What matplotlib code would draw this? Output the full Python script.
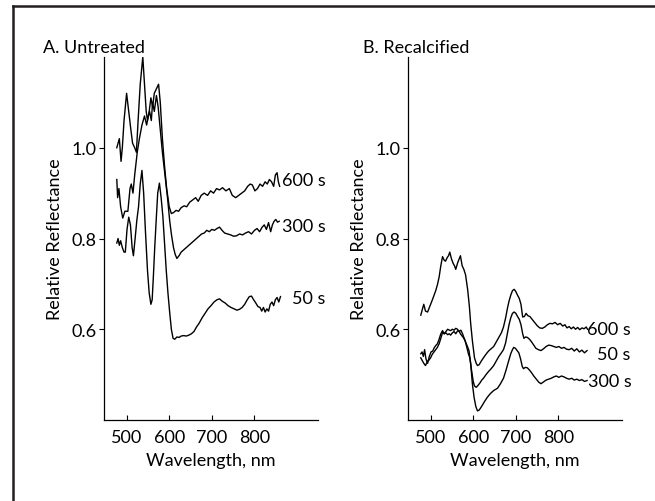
import matplotlib
matplotlib.use("Agg")
import matplotlib.pyplot as plt
from matplotlib.lines import Line2D

plt.rcParams['font.family'] = ['Lato', 'DejaVu Sans']

# ---------------- Data ----------------
# Panel A: Untreated
a600_wl = [477, 480, 483, 487, 490, 494, 500, 505, 510, 514, 519, 523, 527, 532, 538, 542, 546, 549, 553, 557,
           561, 565, 570, 575, 579, 584, 589, 594, 600, 605, 610, 616, 622, 628, 635, 641, 648, 655, 662, 668,
           675, 682, 690, 697, 704, 711, 718, 725, 733, 741, 748, 756, 763, 770, 777, 784, 790, 795, 801, 807,
           813, 819, 825, 830, 835, 840, 845, 849, 853, 856, 859]
a600_r = [1.00, 1.01, 1.02, 0.97, 1.00, 1.06, 1.12, 1.08, 1.04, 1.01, 1.00, 0.99, 1.06, 1.14, 1.20, 1.14, 1.08, 1.06, 1.08, 1.11,
          1.09, 1.12, 1.13, 1.14, 1.10, 1.02, 0.96, 0.91, 0.87, 0.855, 0.857, 0.862, 0.86, 0.868, 0.872, 0.87, 0.88, 0.885, 0.89, 0.882,
          0.895, 0.90, 0.895, 0.905, 0.90, 0.91, 0.907, 0.912, 0.905, 0.91, 0.895, 0.89, 0.895, 0.90, 0.905, 0.915, 0.92, 0.918, 0.905, 0.91,
          0.92, 0.915, 0.925, 0.92, 0.93, 0.925, 0.915, 0.94, 0.945, 0.925, 0.915]

a300_wl = [477, 479, 482, 486, 491, 496, 503, 508, 511, 515, 519, 525, 530, 536, 542, 547, 551, 554, 558, 561,
           565, 570, 574, 578, 584, 590, 596, 601, 605, 610, 614, 618, 623, 628, 634, 640, 646, 652, 658, 664,
           670, 676, 682, 688, 694, 700, 706, 712, 718, 724, 730, 737, 744, 751, 758, 765, 772, 779, 786, 793,
           800, 806, 812, 818, 823, 828, 833, 838, 842, 846, 850, 854, 858]
a300_r = [0.93, 0.89, 0.91, 0.87, 0.845, 0.86, 0.86, 0.91, 0.92, 0.90, 0.94, 0.99, 1.02, 1.05, 1.07, 1.05, 1.07, 1.08, 1.06, 1.10,
          1.08, 1.115, 1.09, 1.05, 0.99, 0.94, 0.89, 0.84, 0.81, 0.78, 0.765, 0.756, 0.762, 0.77, 0.775, 0.78, 0.785, 0.79, 0.795, 0.80,
          0.805, 0.81, 0.812, 0.818, 0.815, 0.82, 0.818, 0.822, 0.825, 0.818, 0.812, 0.81, 0.808, 0.805, 0.806, 0.81, 0.808, 0.812, 0.815, 0.81,
          0.818, 0.822, 0.815, 0.825, 0.83, 0.82, 0.835, 0.815, 0.83, 0.838, 0.842, 0.836, 0.838]

a50_wl = [477, 480, 483, 486, 490, 494, 497, 501, 505, 509, 513, 516, 520, 524, 528, 532, 536, 540, 544, 549,
          553, 557, 560, 563, 566, 570, 573, 577, 581, 585, 589, 593, 597, 601, 605, 609, 613, 618, 623, 628,
          634, 640, 646, 652, 658, 664, 670, 677, 684, 691, 698, 705, 712, 718, 724, 731, 738, 745, 752, 759,
          765, 771, 777, 783, 788, 793, 798, 803, 808, 813, 817, 821, 825, 829, 833, 837, 841, 845, 849, 853,
          857, 861]
a50_r = [0.79, 0.80, 0.785, 0.795, 0.78, 0.77, 0.77, 0.82, 0.847, 0.83, 0.78, 0.762, 0.80, 0.84, 0.87, 0.92, 0.95, 0.90, 0.82, 0.73,
         0.68, 0.655, 0.665, 0.72, 0.78, 0.85, 0.90, 0.922, 0.89, 0.85, 0.79, 0.73, 0.68, 0.638, 0.60, 0.58, 0.578, 0.583, 0.582, 0.585,
         0.586, 0.585, 0.587, 0.59, 0.595, 0.605, 0.613, 0.625, 0.635, 0.645, 0.652, 0.66, 0.665, 0.667, 0.662, 0.658, 0.652, 0.648, 0.645, 0.642,
         0.644, 0.648, 0.655, 0.665, 0.672, 0.673, 0.665, 0.658, 0.65, 0.648, 0.64, 0.648, 0.638, 0.645, 0.64, 0.655, 0.66, 0.652, 0.665, 0.67,
         0.66, 0.672]

# Panel B: Recalcified
b600_wl = [477, 481, 484, 488, 493, 498, 503, 507, 512, 516, 520, 524, 528, 532, 535, 539, 542, 545, 549, 553,
           556, 559, 563, 567, 570, 574, 578, 582, 587, 591, 594, 598, 603, 607, 610, 614, 619, 624, 630, 636,
           642, 648, 654, 660, 666, 671, 676, 680, 684, 688, 692, 696, 700, 704, 708, 712, 716, 720, 724, 728,
           733, 738, 744, 750, 756, 762, 768, 774, 780, 786, 792, 798, 804, 810, 815, 820, 825, 830, 835, 840,
           845, 850, 855, 860, 865, 868]
b600_r = [0.631, 0.645, 0.655, 0.64, 0.638, 0.65, 0.662, 0.672, 0.685, 0.698, 0.715, 0.74, 0.76, 0.752, 0.75, 0.758, 0.762, 0.77, 0.755, 0.745,
          0.74, 0.732, 0.745, 0.755, 0.762, 0.74, 0.732, 0.72, 0.687, 0.65, 0.613, 0.575, 0.537, 0.525, 0.52, 0.522, 0.53, 0.537, 0.545, 0.552,
          0.557, 0.562, 0.572, 0.582, 0.592, 0.605, 0.625, 0.645, 0.662, 0.675, 0.685, 0.688, 0.683, 0.675, 0.668, 0.655, 0.627, 0.628, 0.635, 0.63,
          0.628, 0.622, 0.615, 0.608, 0.603, 0.602, 0.605, 0.61, 0.613, 0.612, 0.615, 0.61, 0.613, 0.607, 0.61, 0.603, 0.606, 0.601, 0.605, 0.60,
          0.604, 0.599, 0.603, 0.601, 0.605, 0.60]

b50_wl = [477, 480, 483, 486, 489, 493, 497, 501, 505, 509, 513, 516, 520, 524, 528, 532, 536, 540, 544, 547,
          551, 555, 559, 563, 567, 571, 575, 578, 581, 585, 589, 592, 596, 600, 603, 607, 611, 616, 620, 624,
          630, 636, 642, 648, 654, 660, 666, 671, 676, 680, 684, 688, 692, 696, 700, 704, 708, 712, 716, 719,
          723, 727, 732, 737, 742, 747, 753, 759, 765, 771, 777, 783, 789, 795, 801, 807, 813, 819, 825, 831,
          837, 843, 849, 855, 861, 867]
b50_r = [0.546, 0.55, 0.54, 0.555, 0.535, 0.525, 0.54, 0.55, 0.552, 0.56, 0.565, 0.568, 0.578, 0.59, 0.597, 0.59, 0.595, 0.60, 0.598, 0.597,
         0.60, 0.598, 0.602, 0.60, 0.595, 0.598, 0.59, 0.582, 0.575, 0.56, 0.545, 0.537, 0.51, 0.485, 0.475, 0.472, 0.476, 0.482, 0.488, 0.492,
         0.50, 0.507, 0.513, 0.52, 0.53, 0.54, 0.548, 0.555, 0.57, 0.59, 0.61, 0.625, 0.635, 0.638, 0.635, 0.628, 0.622, 0.61, 0.59, 0.58,
         0.583, 0.582, 0.578, 0.572, 0.565, 0.558, 0.555, 0.553, 0.557, 0.562, 0.565, 0.564, 0.562, 0.56, 0.562, 0.558, 0.56, 0.556, 0.555, 0.558,
         0.552, 0.557, 0.55, 0.554, 0.548, 0.553]

b300_wl = [477, 481, 484, 488, 492, 496, 500, 504, 508, 512, 516, 520, 524, 528, 532, 536, 540, 544, 547, 551,
           555, 559, 563, 566, 570, 574, 578, 582, 586, 590, 594, 598, 602, 606, 610, 614, 617, 621, 626, 633,
           640, 648, 657, 664, 671, 677, 683, 688, 692, 695, 699, 703, 707, 711, 715, 718, 722, 727, 732, 737,
           742, 748, 754, 759, 765, 771, 777, 783, 789, 795, 801, 807, 813, 819, 825, 831, 837, 843, 849, 855,
           861, 867]
b300_r = [0.537, 0.53, 0.525, 0.52, 0.528, 0.532, 0.537, 0.545, 0.55, 0.555, 0.56, 0.568, 0.58, 0.593, 0.59, 0.592, 0.588, 0.59, 0.587, 0.592,
          0.595, 0.59, 0.596, 0.597, 0.59, 0.585, 0.58, 0.572, 0.563, 0.553, 0.525, 0.48, 0.45, 0.43, 0.42, 0.422, 0.426, 0.432, 0.44, 0.45,
          0.458, 0.465, 0.47, 0.48, 0.492, 0.51, 0.53, 0.546, 0.555, 0.56, 0.558, 0.553, 0.548, 0.535, 0.518, 0.513, 0.516, 0.515, 0.51, 0.504,
          0.497, 0.49, 0.483, 0.48, 0.484, 0.488, 0.49, 0.492, 0.495, 0.497, 0.494, 0.497, 0.495, 0.492, 0.49, 0.492, 0.488, 0.49, 0.487, 0.489,
          0.485, 0.487]

x_ticks = [500, 600, 700, 800]
x_ticklabels = ["500", "600", "700", "800"]
y_ticks = [0.6, 0.8, 1.0]
y_ticklabels = ["0.6", "0.8", "1.0"]

# ---------------- Figure ----------------
W, H = 655, 502
fig = plt.figure(figsize=(W / 100, H / 100), dpi=100)
fig.patch.set_facecolor("white")

def fx(px):
    return px / W

def fy(py):
    return 1 - py / H

# frame lines (left and top)
fig.add_artist(Line2D([fx(13), fx(13)], [fy(6.5), 0], color="#231f20", lw=1.8, transform=fig.transFigure))
fig.add_artist(Line2D([fx(13), 1], [fy(6.5), fy(6.5)], color="#231f20", lw=1.8, transform=fig.transFigure))

axA = fig.add_axes([fx(104), fy(421), fx(318) - fx(104), fy(58) - fy(421)])
axB = fig.add_axes([fx(408), fy(421), fx(622) - fx(408), fy(58) - fy(421)])

lc = "black"
lw = 1.0
axA.plot(a600_wl, a600_r, color=lc, lw=lw)
axA.plot(a300_wl, a300_r, color=lc, lw=lw)
axA.plot(a50_wl, a50_r, color=lc, lw=lw)
axB.plot(b600_wl, b600_r, color=lc, lw=lw)
axB.plot(b50_wl, b50_r, color=lc, lw=lw)
axB.plot(b300_wl, b300_r, color=lc, lw=lw)

fs_tick = 13
fs_lab = 13
for ax in (axA, axB):
    ax.set_xlim(447, 949)
    ax.set_ylim(0.4, 1.2)
    for s in ("top", "right"):
        ax.spines[s].set_visible(False)
    for s in ("left", "bottom"):
        ax.spines[s].set_linewidth(0.9)
    ax.set_xticks(x_ticks)
    ax.set_xticklabels(x_ticklabels)
    ax.set_yticks(y_ticks)
    ax.set_yticklabels(y_ticklabels)
    ax.tick_params(axis="x", direction="in", length=3.5, width=0.8, labelsize=fs_tick, pad=6.5)
    ax.tick_params(axis="y", direction="out", length=3.5, width=0.8, labelsize=fs_tick, pad=2)
    ax.set_xlabel("Wavelength, nm", fontsize=fs_lab)
    ax.set_ylabel("Relative Reflectance", fontsize=fs_lab)
    ax.xaxis.set_label_coords(0.5, -0.088)
    ax.yaxis.set_label_coords(-0.19, 0.5)
    ax.patch.set_alpha(0)

# curve labels
axA.text(864, 0.93, "600 s", fontsize=fs_lab, va="center", ha="left")
axA.text(864, 0.828, "300 s", fontsize=fs_lab, va="center", ha="left")
axA.text(888, 0.668, "50 s", fontsize=fs_lab, va="center", ha="left")
axB.text(868, 0.60, "600 s", fontsize=fs_lab, va="center", ha="left")
axB.text(890, 0.545, "50 s", fontsize=fs_lab, va="center", ha="left")
axB.text(869, 0.487, "300 s", fontsize=fs_lab, va="center", ha="left")

fig.text(fx(43), fy(48), "A. Untreated", fontsize=fs_lab, ha="left", va="center")
fig.text(fx(363), fy(48), "B. Recalcified", fontsize=fs_lab, ha="left", va="center")

fig.savefig("out.png", dpi=100, facecolor="white")
